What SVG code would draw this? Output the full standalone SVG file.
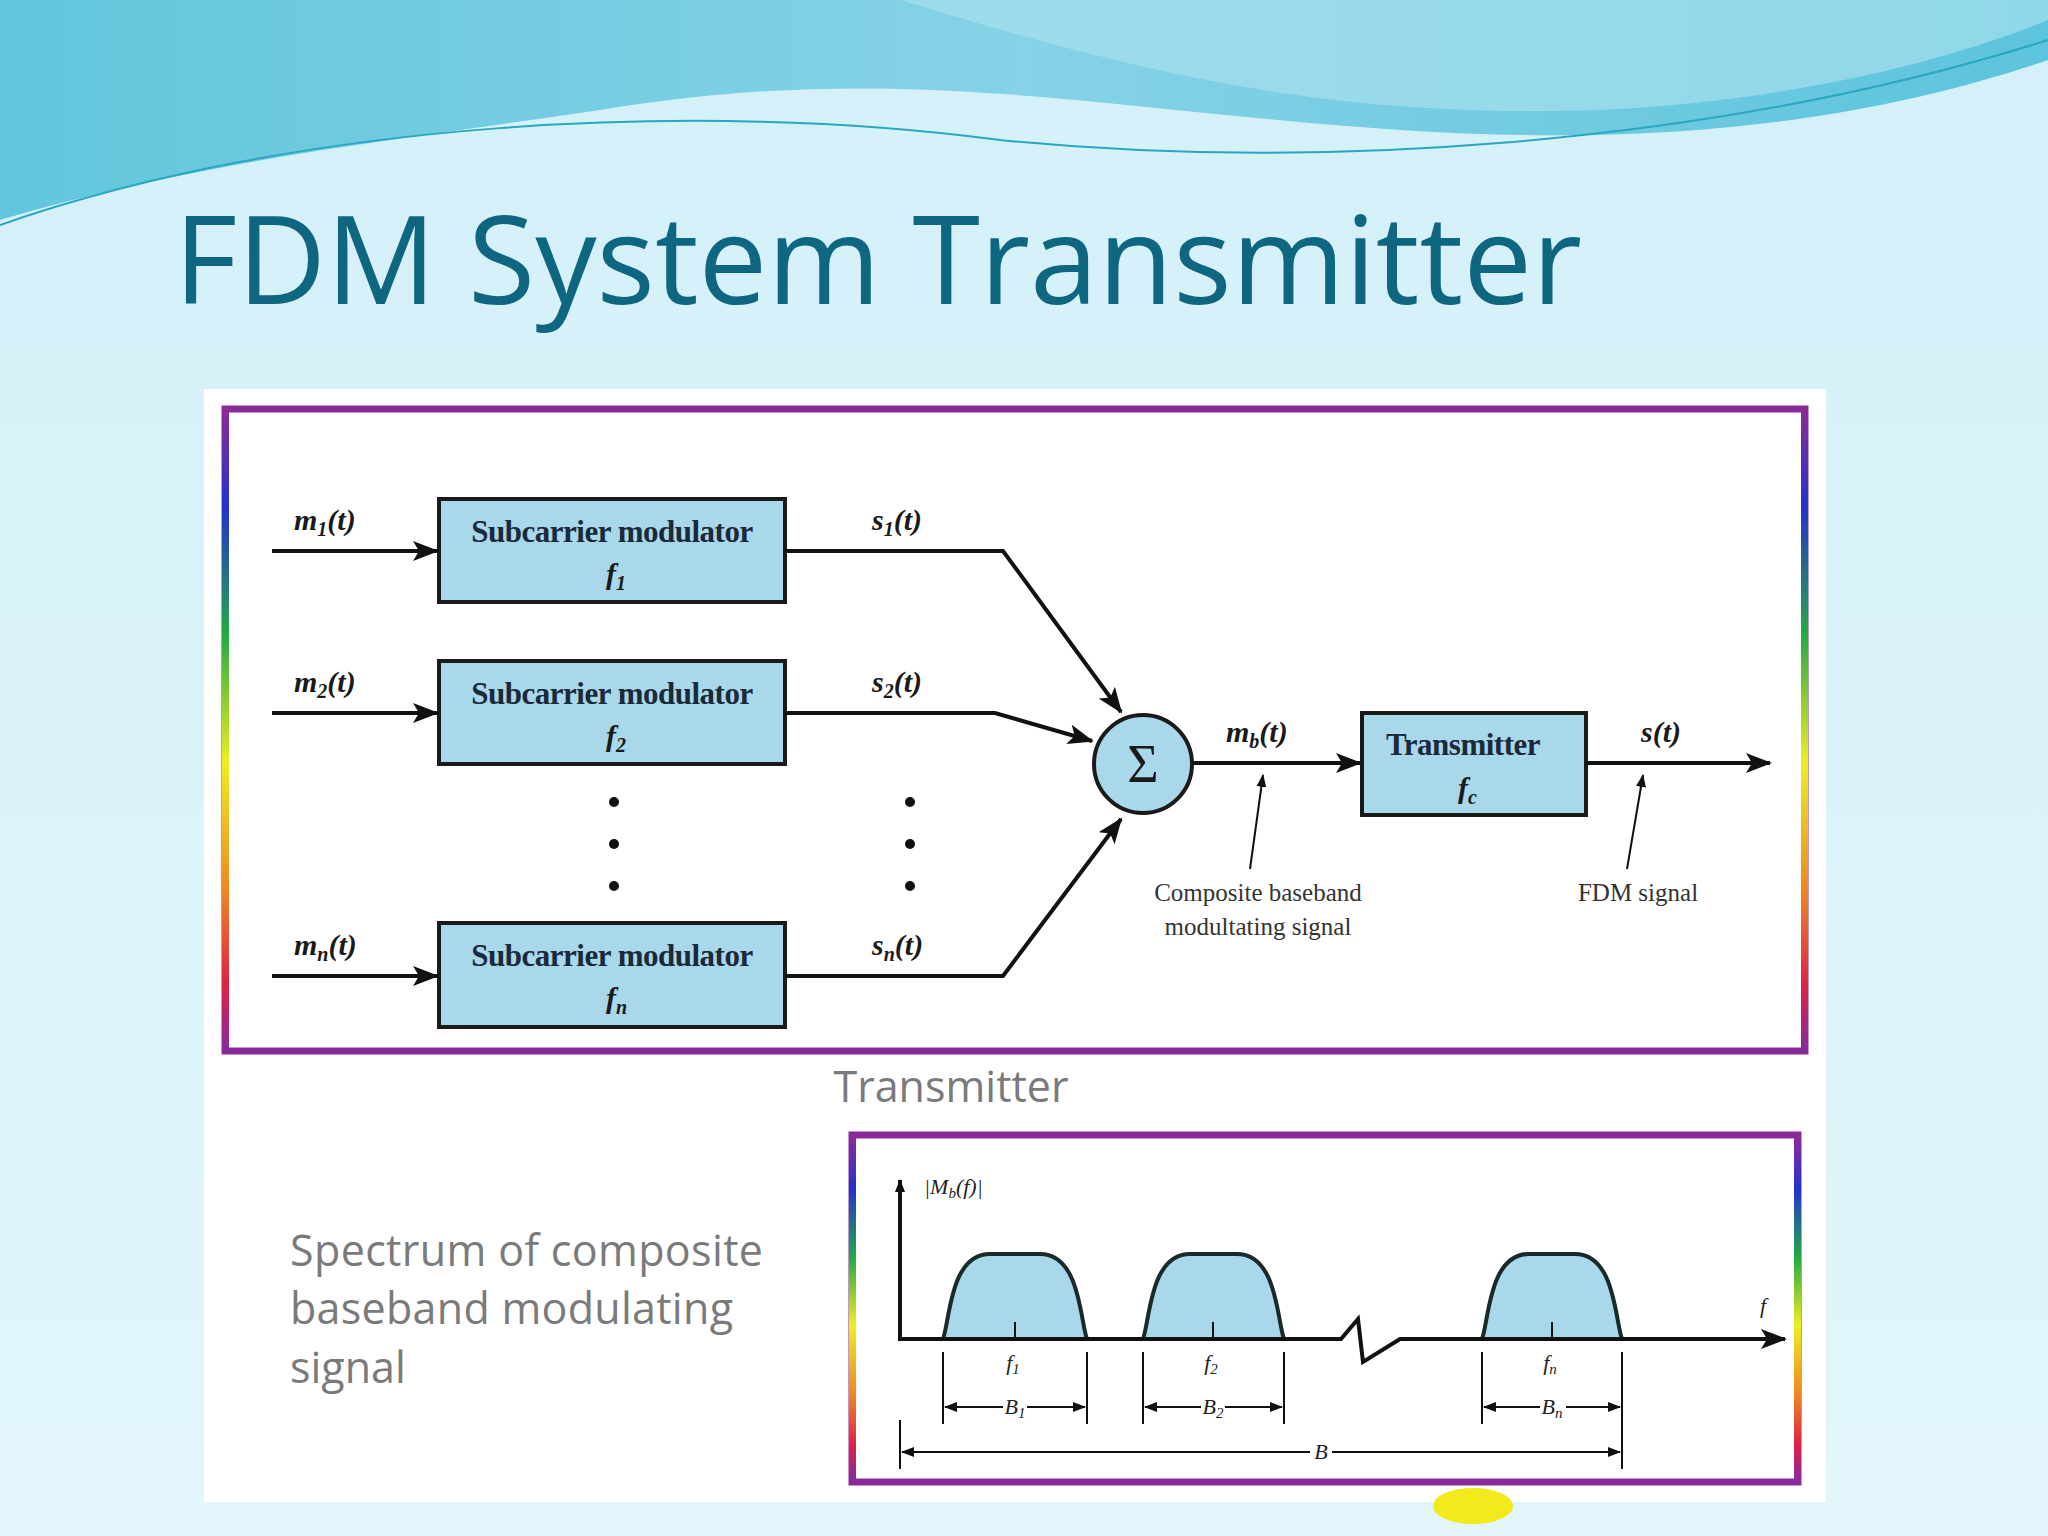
<svg xmlns="http://www.w3.org/2000/svg" width="2048" height="1536" viewBox="0 0 2048 1536">
<defs>
<linearGradient id="bg" x1="0" y1="0" x2="0" y2="1"><stop offset="0" stop-color="#d3f0f8"/><stop offset="1" stop-color="#e2f6fb"/></linearGradient>
<linearGradient id="wave" x1="0" y1="0" x2="1" y2="0"><stop offset="0" stop-color="#62c6dc"/><stop offset="0.5" stop-color="#86d2e6"/><stop offset="1" stop-color="#5cc4dc"/></linearGradient>
<linearGradient id="rb" x1="0" y1="0" x2="0" y2="1"><stop offset="0" stop-color="#8a2a9a"/><stop offset="0.15" stop-color="#2233cc"/><stop offset="0.35" stop-color="#22aa44"/><stop offset="0.55" stop-color="#eeee22"/><stop offset="0.75" stop-color="#ee8822"/><stop offset="0.9" stop-color="#dd2244"/><stop offset="1" stop-color="#8a2a9a"/></linearGradient>
<marker id="a" viewBox="-24 -10 26 20" refX="0" refY="0" markerWidth="26" markerHeight="20" orient="auto" markerUnits="userSpaceOnUse"><path d="M-24,-10 L2,0 L-24,10 L-18,0 Z" fill="#111"/></marker>
<marker id="s" viewBox="-12 -5 13 10" refX="0" refY="0" markerWidth="13" markerHeight="10" orient="auto" markerUnits="userSpaceOnUse"><path d="M-12,-5 L1,0 L-12,5 Z" fill="#111"/></marker>
</defs>
<style>
.blk{fill:#a8d8ea;stroke:#1a1a1a;stroke-width:4}
.ln{fill:none;stroke:#111;stroke-width:4}
.th{fill:none;stroke:#111;stroke-width:2}
.bt{font-family:"Liberation Serif",serif;font-weight:bold;font-size:31px;fill:#1a2a3a;text-anchor:middle;letter-spacing:-0.5px}
.it{font-family:"Liberation Serif",serif;font-style:italic;font-weight:bold;font-size:30px;fill:#1a1a1a}
.sm{font-family:"Liberation Serif",serif;font-size:25px;fill:#333;text-anchor:middle}
.si{font-family:"Liberation Serif",serif;font-style:italic;font-size:22px;fill:#222;text-anchor:middle}
.gr{font-family:"Open Sans","Liberation Sans",sans-serif;font-size:43px;fill:#7a7a7a}
.fr{fill:none;stroke:#8a2a9a;stroke-width:7}
.bump{fill:#a8d8ea;stroke:#1a2a2a;stroke-width:4}
</style>
<rect width="2048" height="1536" fill="url(#bg)"/>
<path d="M0,0 H2048 V60 C1900,110 1700,150 1400,130 C1100,110 900,60 600,110 C400,140 200,160 0,220 Z" fill="url(#wave)"/>
<path d="M900,0 C1100,60 1300,120 1600,110 C1800,100 1950,60 2048,20 V0 Z" fill="#a6e0ee" opacity="0.7"/>
<path d="M0,225 C300,120 700,100 1000,140 C1300,170 1700,150 2048,40" fill="none" stroke="#2aa6c0" stroke-width="2"/>
<text x="174" y="304" font-family="Open Sans,'Liberation Sans',sans-serif" font-size="123" fill="#0f6680" textLength="1408" lengthAdjust="spacingAndGlyphs">FDM System Transmitter</text>
<rect x="204" y="389" width="1622" height="1113" fill="#ffffff"/>
<rect x="225" y="409" width="1580" height="642" class="fr"/>
<rect x="222" y="412" width="7" height="636" fill="url(#rb)"/>
<rect x="1801" y="412" width="7" height="636" fill="url(#rb)"/>
<g id="n1"><rect x="439" y="499" width="346" height="103" class="blk"/><text x="612" y="542" class="bt">Subcarrier modulator</text><text x="606" y="584" class="it">f<tspan font-size="20" dy="6">1</tspan></text></g>
<g id="n2"><rect x="439" y="661" width="346" height="103" class="blk"/><text x="612" y="704" class="bt">Subcarrier modulator</text><text x="606" y="746" class="it">f<tspan font-size="20" dy="6">2</tspan></text></g>
<g id="nn"><rect x="439" y="923" width="346" height="104" class="blk"/><text x="612" y="966" class="bt">Subcarrier modulator</text><text x="606" y="1008" class="it">f<tspan font-size="20" dy="6">n</tspan></text></g>
<g id="sum"><circle cx="1143" cy="764" r="49" class="blk"/><text x="1143" y="782" font-family="Liberation Serif,serif" font-size="54" text-anchor="middle" fill="#1a1a1a">Σ</text></g>
<g id="tx"><rect x="1362" y="713" width="224" height="102" class="blk"/><text x="1463" y="755" class="bt">Transmitter</text><text x="1458" y="798" class="it">f<tspan font-size="20" dy="6">c</tspan></text></g>
<g id="labels">
<text x="294" y="530" class="it">m<tspan font-size="20" dy="6">1</tspan><tspan dy="-6">(t)</tspan></text>
<text x="294" y="692" class="it">m<tspan font-size="20" dy="6">2</tspan><tspan dy="-6">(t)</tspan></text>
<text x="294" y="955" class="it">m<tspan font-size="20" dy="6">n</tspan><tspan dy="-6">(t)</tspan></text>
<text x="872" y="530" class="it">s<tspan font-size="20" dy="6">1</tspan><tspan dy="-6">(t)</tspan></text>
<text x="872" y="692" class="it">s<tspan font-size="20" dy="6">2</tspan><tspan dy="-6">(t)</tspan></text>
<text x="872" y="955" class="it">s<tspan font-size="20" dy="6">n</tspan><tspan dy="-6">(t)</tspan></text>
<text x="1226" y="742" class="it">m<tspan font-size="20" dy="6">b</tspan><tspan dy="-6">(t)</tspan></text>
<text x="1641" y="742" class="it">s(t)</text>
<text x="1258" y="901" class="sm">Composite baseband</text>
<text x="1258" y="935" class="sm">modultating signal</text>
<text x="1638" y="901" class="sm">FDM signal</text>
<text x="951" y="1102" class="gr" font-size="40" text-anchor="middle">Transmitter</text>
<text x="290" y="1266" class="gr" textLength="473">Spectrum of composite</text>
<text x="290" y="1324" class="gr" textLength="443">baseband modulating</text>
<text x="290" y="1383" class="gr">signal</text>
</g>
<g id="dots" fill="#111"><circle cx="614" cy="802" r="5"/><circle cx="614" cy="844" r="5"/><circle cx="614" cy="886" r="5"/><circle cx="910" cy="802" r="5"/><circle cx="910" cy="844" r="5"/><circle cx="910" cy="886" r="5"/></g>
<g id="connectors">
<line x1="272" y1="551" x2="437" y2="551" class="ln" marker-end="url(#a)"/>
<line x1="272" y1="713" x2="437" y2="713" class="ln" marker-end="url(#a)"/>
<line x1="272" y1="976" x2="437" y2="976" class="ln" marker-end="url(#a)"/>
<polyline points="785,551 1003,551 1121,712" class="ln" marker-end="url(#a)"/>
<polyline points="785,713 995,713 1092,741" class="ln" marker-end="url(#a)"/>
<polyline points="785,976 1003,976 1121,819" class="ln" marker-end="url(#a)"/>
<line x1="1192" y1="763" x2="1360" y2="763" class="ln" marker-end="url(#a)"/>
<line x1="1586" y1="763" x2="1770" y2="763" class="ln" marker-end="url(#a)"/>
<line x1="1250" y1="869" x2="1263" y2="775" class="th" marker-end="url(#s)"/>
<line x1="1627" y1="869" x2="1643" y2="775" class="th" marker-end="url(#s)"/>
</g>
<ellipse cx="1473" cy="1506" rx="40" ry="18" fill="#f2ea1a"/>
<rect x="852" y="1135" width="946" height="347" class="fr"/>
<rect x="849" y="1138" width="7" height="341" fill="url(#rb)"/>
<rect x="1794" y="1138" width="7" height="341" fill="url(#rb)"/>
<g id="spectrum">
<path d="M943,1339 C950,1320 950,1254 990,1254 L1040,1254 C1080,1254 1080,1320 1087,1339 Z" class="bump"/>
<path d="M1143,1339 C1150,1320 1150,1254 1190,1254 L1237,1254 C1277,1254 1277,1320 1284,1339 Z" class="bump"/>
<path d="M1482,1339 C1489,1320 1489,1254 1529,1254 L1575,1254 C1615,1254 1615,1320 1622,1339 Z" class="bump"/>
<line x1="1015" y1="1322" x2="1015" y2="1339" class="th"/><line x1="1213" y1="1322" x2="1213" y2="1339" class="th"/><line x1="1552" y1="1322" x2="1552" y2="1339" class="th"/>
<line x1="900" y1="1341" x2="900" y2="1180" class="ln" marker-end="url(#s)"/>
<polyline points="900,1339 1341,1339 1358,1319 1363,1362 1400,1339 1785,1339" class="ln" marker-end="url(#a)"/>
<text x="924" y="1194" class="si" style="text-anchor:start">|M<tspan font-size="15" dy="4">b</tspan><tspan dy="-4">(f)|</tspan></text>
<text x="1763" y="1313" class="si" font-size="26">f</text>
<text x="1013" y="1370" class="si">f<tspan font-size="15" dy="4">1</tspan></text>
<text x="1211" y="1370" class="si">f<tspan font-size="15" dy="4">2</tspan></text>
<text x="1550" y="1370" class="si">f<tspan font-size="15" dy="4">n</tspan></text>
<g class="th">
<line x1="943" y1="1352" x2="943" y2="1424"/><line x1="1087" y1="1352" x2="1087" y2="1424"/>
<line x1="1143" y1="1352" x2="1143" y2="1424"/><line x1="1284" y1="1352" x2="1284" y2="1424"/>
<line x1="1482" y1="1352" x2="1482" y2="1424"/><line x1="1622" y1="1352" x2="1622" y2="1469"/>
<line x1="900" y1="1420" x2="900" y2="1469"/>
</g>
<g class="th" marker-end="url(#s)">
<line x1="1003" y1="1407" x2="945" y2="1407"/><line x1="1027" y1="1407" x2="1085" y2="1407"/>
<line x1="1201" y1="1407" x2="1145" y2="1407"/><line x1="1225" y1="1407" x2="1282" y2="1407"/>
<line x1="1540" y1="1407" x2="1484" y2="1407"/><line x1="1566" y1="1407" x2="1620" y2="1407"/>
<line x1="1310" y1="1452" x2="902" y2="1452"/><line x1="1332" y1="1452" x2="1620" y2="1452"/>
</g>
<text x="1015" y="1414" class="si">B<tspan font-size="15" dy="4">1</tspan></text>
<text x="1213" y="1414" class="si">B<tspan font-size="15" dy="4">2</tspan></text>
<text x="1552" y="1414" class="si">B<tspan font-size="15" dy="4">n</tspan></text>
<text x="1321" y="1459" class="si">B</text>
</g>
</svg>
